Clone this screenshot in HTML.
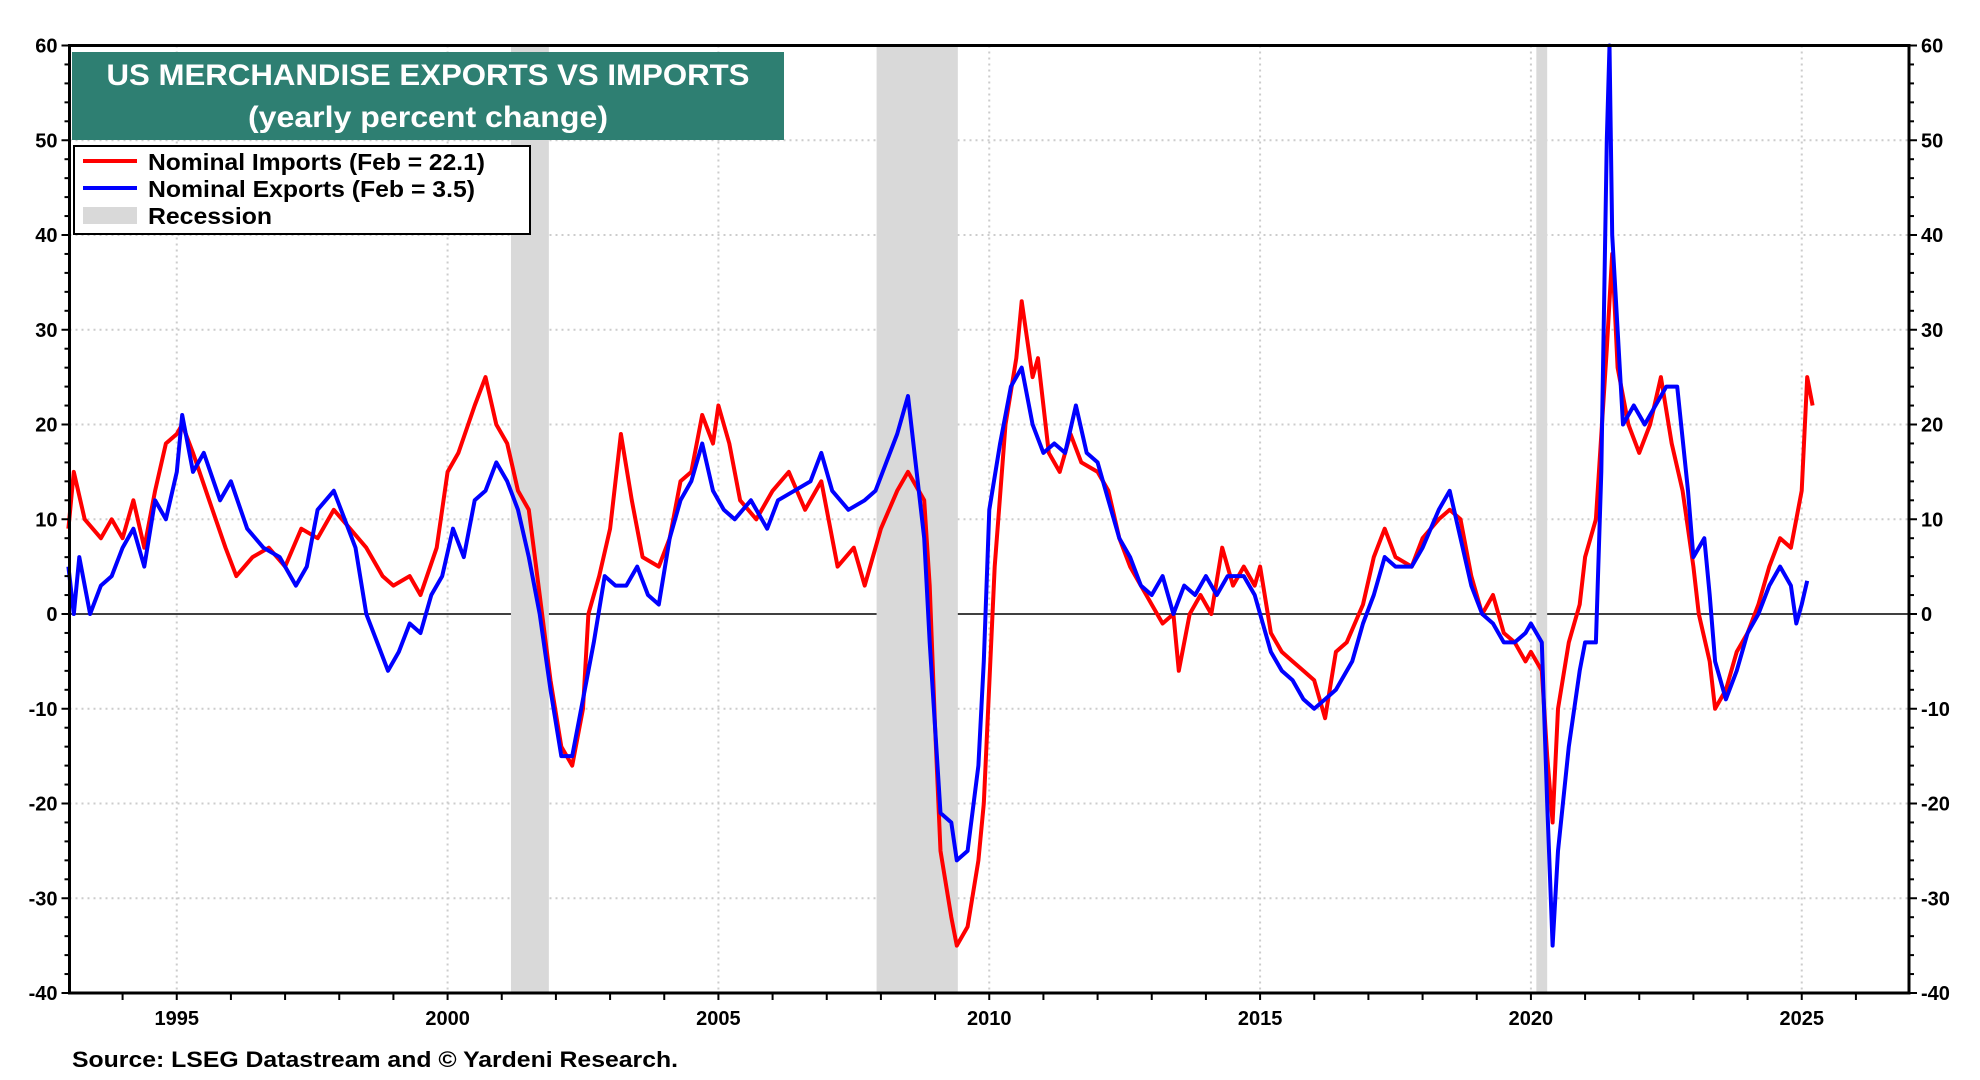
<!DOCTYPE html>
<html><head><meta charset="utf-8"><style>
html,body{margin:0;padding:0;background:#fff;}
svg{display:block;font-family:"Liberation Sans",Arial,sans-serif;font-weight:bold;}
</style></head><body>
<svg id="chart" width="1980" height="1080" viewBox="0 0 1980 1080">
<g id="grid"></g>
<g id="rec"></g>
<g id="series"></g>
<g id="axes"></g>
<g>
<rect x="72" y="52" width="712" height="88" fill="#2e7f72"/>
<text x="428" y="85" fill="#fff" font-size="30" text-anchor="middle" textLength="643" lengthAdjust="spacingAndGlyphs">US MERCHANDISE EXPORTS VS IMPORTS</text>
<text x="428" y="127" fill="#fff" font-size="30" text-anchor="middle" textLength="360" lengthAdjust="spacingAndGlyphs">(yearly percent change)</text>
</g>
<g>
<rect x="74" y="146" width="456" height="88" fill="#fff" stroke="#000" stroke-width="2"/>
<line x1="83" y1="161" x2="137" y2="161" stroke="#f00" stroke-width="4"/>
<text x="148" y="170" font-size="23" textLength="337" lengthAdjust="spacingAndGlyphs">Nominal Imports (Feb = 22.1)</text>
<line x1="83" y1="188" x2="137" y2="188" stroke="#00f" stroke-width="4"/>
<text x="148" y="197" font-size="23" textLength="327" lengthAdjust="spacingAndGlyphs">Nominal Exports (Feb = 3.5)</text>
<rect x="83" y="207" width="54" height="17" fill="#d9d9d9"/>
<text x="148" y="224" font-size="23" textLength="124" lengthAdjust="spacingAndGlyphs">Recession</text>
</g>
<text x="72" y="1067" font-size="22" textLength="606" lengthAdjust="spacingAndGlyphs">Source: LSEG Datastream and © Yardeni Research.</text>
</svg>
<script>
const impDates=[1993.0,1993.1,1993.3,1993.6,1993.8,1994.0,1994.2,1994.4,1994.6,1994.8,1995.0,1995.1,1995.3,1995.6,1995.9,1996.1,1996.4,1996.7,1997.0,1997.3,1997.6,1997.9,1998.2,1998.5,1998.8,1999.0,1999.3,1999.5,1999.8,2000.0,2000.2,2000.5,2000.7,2000.9,2001.1,2001.3,2001.5,2001.7,2001.9,2002.1,2002.3,2002.5,2002.6,2002.8,2003.0,2003.2,2003.4,2003.6,2003.9,2004.1,2004.3,2004.5,2004.7,2004.9,2005.0,2005.2,2005.4,2005.7,2006.0,2006.3,2006.6,2006.9,2007.2,2007.5,2007.7,2008.0,2008.3,2008.5,2008.8,2008.9,2009.0,2009.1,2009.3,2009.4,2009.6,2009.8,2009.9,2010.1,2010.3,2010.5,2010.6,2010.8,2010.9,2011.1,2011.3,2011.5,2011.7,2012.0,2012.2,2012.4,2012.6,2012.8,2013.0,2013.2,2013.4,2013.5,2013.7,2013.9,2014.1,2014.3,2014.5,2014.7,2014.9,2015.0,2015.2,2015.4,2015.6,2015.8,2016.0,2016.2,2016.4,2016.6,2016.9,2017.1,2017.3,2017.5,2017.8,2018.0,2018.3,2018.5,2018.7,2018.9,2019.1,2019.3,2019.5,2019.7,2019.9,2020.0,2020.2,2020.3,2020.4,2020.5,2020.7,2020.9,2021.0,2021.2,2021.4,2021.5,2021.6,2021.8,2022.0,2022.2,2022.4,2022.6,2022.8,2023.0,2023.1,2023.3,2023.4,2023.6,2023.8,2024.0,2024.2,2024.4,2024.6,2024.8,2025.0,2025.1,2025.2];
const impVals=[9,15,10,8,10,8,12,7,13,18,19,20,17,12,7,4,6,7,5,9,8,11,9,7,4,3,4,2,7,15,17,22,25,20,18,13,11,2,-7,-14,-16,-10,0,4,9,19,12,6,5,8,14,15,21,18,22,18,12,10,13,15,11,14,5,7,3,9,13,15,12,3,-12,-25,-32,-35,-33,-26,-20,5,20,27,33,25,27,17,15,19,16,15,13,8,5,3,1,-1,0,-6,0,2,0,7,3,5,3,5,-2,-4,-5,-6,-7,-11,-4,-3,1,6,9,6,5,8,10,11,10,4,0,2,-2,-3,-5,-4,-6,-15,-22,-10,-3,1,6,10,28,38,26,20,17,20,25,18,13,5,0,-5,-10,-8,-4,-2,1,5,8,7,13,25,22];
const expDates=[1993.0,1993.1,1993.2,1993.4,1993.6,1993.8,1994.0,1994.2,1994.4,1994.6,1994.8,1995.0,1995.1,1995.3,1995.5,1995.8,1996.0,1996.3,1996.6,1996.9,1997.2,1997.4,1997.6,1997.9,1998.1,1998.3,1998.5,1998.7,1998.9,1999.1,1999.3,1999.5,1999.7,1999.9,2000.1,2000.3,2000.5,2000.7,2000.9,2001.1,2001.3,2001.5,2001.7,2001.9,2002.1,2002.3,2002.5,2002.7,2002.9,2003.1,2003.3,2003.5,2003.7,2003.9,2004.1,2004.3,2004.5,2004.7,2004.9,2005.1,2005.3,2005.6,2005.9,2006.1,2006.4,2006.7,2006.9,2007.1,2007.4,2007.7,2007.9,2008.1,2008.3,2008.5,2008.6,2008.8,2008.9,2009.0,2009.1,2009.3,2009.4,2009.6,2009.8,2009.9,2010.0,2010.2,2010.4,2010.6,2010.8,2011.0,2011.2,2011.4,2011.6,2011.8,2012.0,2012.2,2012.4,2012.6,2012.8,2013.0,2013.2,2013.4,2013.6,2013.8,2014.0,2014.2,2014.4,2014.7,2014.9,2015.0,2015.2,2015.4,2015.6,2015.8,2016.0,2016.2,2016.4,2016.7,2016.9,2017.1,2017.3,2017.5,2017.8,2018.0,2018.3,2018.5,2018.7,2018.9,2019.1,2019.3,2019.5,2019.7,2019.9,2020.0,2020.2,2020.3,2020.4,2020.5,2020.7,2020.9,2021.0,2021.2,2021.3,2021.4,2021.45,2021.5,2021.7,2021.9,2022.1,2022.3,2022.5,2022.7,2022.9,2023.0,2023.2,2023.3,2023.4,2023.6,2023.8,2024.0,2024.2,2024.4,2024.6,2024.8,2024.9,2025.0,2025.1];
const expVals=[5,0,6,0,3,4,7,9,5,12,10,15,21,15,17,12,14,9,7,6,3,5,11,13,10,7,0,-3,-6,-4,-1,-2,2,4,9,6,12,13,16,14,11,6,0,-8,-15,-15,-9,-3,4,3,3,5,2,1,8,12,14,18,13,11,10,12,9,12,13,14,17,13,11,12,13,16,19,23,18,8,-3,-12,-21,-22,-26,-25,-16,-5,11,18,24,26,20,17,18,17,22,17,16,12,8,6,3,2,4,0,3,2,4,2,4,4,2,0,-4,-6,-7,-9,-10,-9,-8,-5,-1,2,6,5,5,7,11,13,8,3,0,-1,-3,-3,-2,-1,-3,-20,-35,-25,-14,-6,-3,-3,15,50,60,40,20,22,20,22,24,24,13,6,8,2,-5,-9,-6,-2,0,3,5,3,-1,1,3.5];
const recStarts=[2001.17,2007.92,2020.1];
const recEnds=[2001.87,2009.42,2020.3];
const yTicks=[-40,-30,-20,-10,0,10,20,30,40,50,60];
const xTickLabels=[1995,2000,2005,2010,2015,2020,2025];

const L=69.5,R=1909,T=45.5,B=993;
const X0=1993.02,X1=2026.98;
const xs=v=>L+(v-X0)/(X1-X0)*(R-L);
const ys=v=>B-(v+40)/100*(B-T);
const NS="http://www.w3.org/2000/svg";
function mk(tag,attrs,parent){const e=document.createElementNS(NS,tag);for(const k in attrs)e.setAttribute(k,attrs[k]);parent.appendChild(e);return e;}
const grid=document.getElementById('grid'),rec=document.getElementById('rec'),ser=document.getElementById('series'),ax=document.getElementById('axes');

yTicks.forEach(v=>{
  if(v===0||v===60||v===-40)return;
  const l=mk('line',{x1:L,x2:R,y1:ys(v),y2:ys(v),stroke:'#ccc','stroke-width':2,'stroke-dasharray':'2,4'},grid);
  
  
});
xTickLabels.forEach(v=>{
  const l=mk('line',{x1:xs(v),x2:xs(v),y1:T,y2:B,stroke:'#ccc','stroke-width':2,'stroke-dasharray':'2,4'},grid);
  
  
});
recStarts.forEach((s,i)=>{
  const r=mk('rect',{x:xs(s),y:T,width:xs(recEnds[i])-xs(s),height:B-T,fill:'#d9d9d9'},rec);
  
  
});
const z=mk('line',{x1:L,x2:R,y1:ys(0),y2:ys(0),stroke:'#000','stroke-width':1.5},grid);



function path(d,v,c,name){
  const p=mk('path',{d:d.map((t,i)=>(i?'L':'M')+xs(t).toFixed(1)+','+ys(v[i]).toFixed(1)).join(''),fill:'none',stroke:c,'stroke-width':4,'stroke-linejoin':'round'},ser);
  
  
}
path(impDates,impVals,'#f00','imports-line');
path(expDates,expVals,'#00f','exports-line');

mk('rect',{x:L,y:T,width:R-L,height:B-T,fill:'none',stroke:'#000','stroke-width':3},ax);
for(let v=-40;v<=60;v+=2){
  const w=(v%10===0)?8:5;
  mk('line',{x1:L-w,x2:L,y1:ys(v),y2:ys(v),stroke:'#000','stroke-width':2},ax);
  mk('line',{x1:R,x2:R+w,y1:ys(v),y2:ys(v),stroke:'#000','stroke-width':2},ax);
}
for(let y=1994;y<=2026;y++){
  mk('line',{x1:xs(y),x2:xs(y),y1:B,y2:B+7,stroke:'#000','stroke-width':2},ax);
}
yTicks.forEach(v=>{
  const a=mk('text',{x:L-12,y:ys(v)+7,'font-size':20,'text-anchor':'end'},ax);a.textContent=v;
  
  
  const b=mk('text',{x:R+12,y:ys(v)+7,'font-size':20,'text-anchor':'start'},ax);b.textContent=v;
  
  
});
xTickLabels.forEach(v=>{
  const t=mk('text',{x:xs(v),y:B+32,'font-size':20,'text-anchor':'middle'},ax);t.textContent=v;
  
  
});
</script>
</body></html>
